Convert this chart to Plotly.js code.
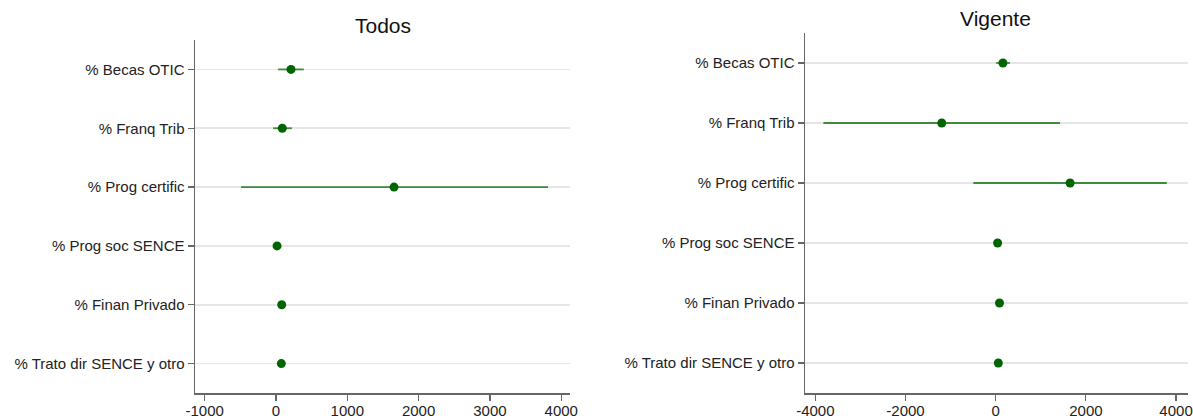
<!DOCTYPE html>
<html>
<head>
<meta charset="utf-8">
<script src="https://cdn.plot.ly/plotly-3.0.1.min.js"></script>
<style>html,body{margin:0;padding:0;background:#fff}#chart{width:1193px;height:418px}</style>
</head>
<body>
<div id="chart"></div>
<script>
// ---- Data ----
const categories = ["% Becas OTIC", "% Franq Trib", "% Prog certific", "% Prog soc SENCE", "% Finan Privado", "% Trato dir SENCE y otro"];

// Panel "Todos": point estimate and confidence interval bounds
const todosEst = [210, 88, 1655, 15, 80, 75];
const todosLo  = [30, -40, -490, 5, 70, 65];
const todosHi  = [390, 222, 3815, 25, 90, 85];

// Panel "Vigente"
const vigEst = [160, -1197, 1650, 42, 84, 58];
const vigLo  = [10, -3822, -497, 30, 72, 46];
const vigHi  = [315, 1426, 3795, 54, 96, 70];

const xTicksTodos = [-1000, 0, 1000, 2000, 3000, 4000];
const xTicksVig = [-4000, -2000, 0, 2000, 4000];
const panelTitles = ["Todos", "Vigente"];

// ---- Styling ----
const W = 1193, H = 418;
const markerColor = "#006400";
const ciColor = "#3c8c3c";
const fontFam = "Liberation Sans, Arial, sans-serif";

function diff(a, b) { return a.map((v, i) => v - b[i]); }

function trace(est, lo, hi, xa, ya) {
  return {
    type: "scatter", mode: "markers",
    x: est, y: categories, xaxis: xa, yaxis: ya,
    marker: { color: markerColor, size: 9 },
    error_x: { type: "data", symmetric: false, array: diff(hi, est), arrayminus: diff(est, lo),
               color: ciColor, thickness: 1.8, width: 0 },
    hoverinfo: "x+y", showlegend: false, cliponaxis: false
  };
}

const px = v => v / W;
const py = v => (H - v) / H;

function yAxis(top, anchor) {
  return {
    domain: [py(393), py(top)], anchor: anchor,
    type: "category", categoryorder: "array", categoryarray: categories,
    range: [5.5, -0.5],
    showgrid: true, gridcolor: "#e6e6e6", gridwidth: 1.6,
    showline: true, linecolor: "#666", linewidth: 1.5,
    ticks: "outside", ticklen: 6, tickcolor: "#666", tickwidth: 1.2,
    tickfont: { family: fontFam, size: 15, color: "#222" },
    zeroline: false, fixedrange: true
  };
}
function xAxis(d0, d1, range, ticks, anchor) {
  return {
    domain: [px(d0), px(d1)], anchor: anchor, range: range,
    tickmode: "array", tickvals: ticks, ticktext: ticks.map(String),
    showgrid: false, zeroline: false,
    showline: true, linecolor: "#666", linewidth: 1.5,
    ticks: "outside", ticklen: 6, tickcolor: "#666", tickwidth: 1.2,
    tickfont: { family: fontFam, size: 15, color: "#222" },
    ticklabelstandoff: -3, ticklabeloverflow: "allow",
    fixedrange: true
  };
}

const data = [
  trace(todosEst, todosLo, todosHi, "x", "y"),
  trace(vigEst, vigLo, vigHi, "x2", "y2")
];

const layout = {
  width: W, height: H,
  margin: { l: 0, r: 0, t: 0, b: 0 },
  paper_bgcolor: "#fff", plot_bgcolor: "#fff",
  font: { family: fontFam, color: "#222" },
  xaxis: xAxis(195, 570, [-1136, 4123], xTicksTodos, "y"),
  yaxis: yAxis(40, "x"),
  xaxis2: xAxis(805, 1188, [-4230, 4265], xTicksVig, "y2"),
  yaxis2: yAxis(33, "x2"),
  annotations: [
    { text: panelTitles[0], xref: "paper", yref: "paper", x: px(383), y: py(25),
      xanchor: "center", yanchor: "middle", showarrow: false,
      font: { family: fontFam, size: 21, color: "#111" } },
    { text: panelTitles[1], xref: "paper", yref: "paper", x: px(995), y: py(19),
      xanchor: "center", yanchor: "middle", showarrow: false,
      font: { family: fontFam, size: 21, color: "#111" } }
  ]
};

Plotly.newPlot("chart", data, layout, { displayModeBar: false, staticPlot: true });
</script>
</body>
</html>
